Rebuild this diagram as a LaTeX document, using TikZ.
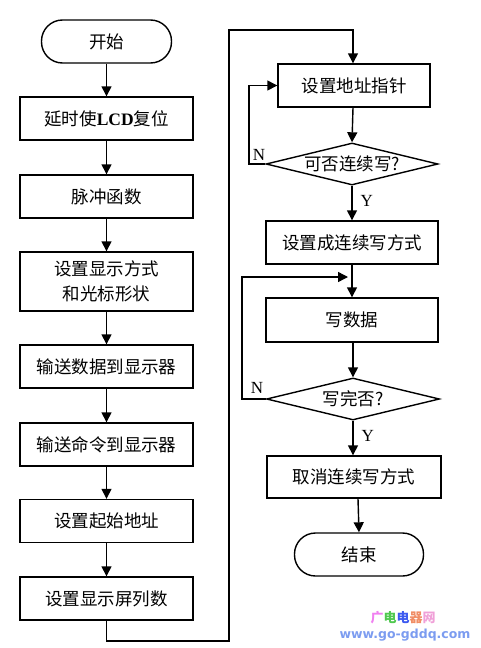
\documentclass[tikz,border=0pt]{standalone}
\usepackage{fontspec}
\setmainfont{Liberation Serif}
\newfontfamily\cjk{Noto Sans CJK SC}
\newfontfamily\wmfont{DejaVu Sans}
\usetikzlibrary{arrows.meta,shapes.geometric}
\definecolor{wmpink}{HTML}{F080F0}
\definecolor{wmgreen}{HTML}{50C850}
\definecolor{wmblue}{HTML}{3C5AF0}
\definecolor{wmorange}{HTML}{F08C64}
\definecolor{wmrose}{HTML}{F0A0D8}
\definecolor{wmsky}{HTML}{7C9CF0}
\tikzset{
  every node/.style={font=\cjk\fontsize{17.5}{25}\selectfont},
  procbox/.style={draw, line width=1.4pt, rectangle, minimum width=#1, minimum height=43pt, inner sep=0pt, align=center},
  procbox/.default=173pt,
  termbox/.style={draw, line width=1.4pt, rectangle, rounded corners=21pt, minimum width=130pt, minimum height=43pt, inner sep=0pt},
  decbox/.style={draw, line width=1.4pt, diamond, minimum width=172pt, minimum height=42pt, inner sep=0pt},
  flow/.style={line width=1.4pt, -{Triangle[length=10pt,width=10pt]}},
  plain/.style={line width=1.4pt},
  yn/.style={font=\fontsize{17}{18}\selectfont, inner sep=0pt}
}
\begin{document}
\begin{tikzpicture}[x=1pt,y=-1pt]
\useasboundingbox (0,0) rectangle (480,648);
% left column
\node[termbox] (start) at (106.5,41.5) {开始};
\node[procbox] (b1) at (106.5,118.5) {延时使{\rmfamily\bfseries LCD}复位};
\node[procbox] (b2) at (106.5,196.5) {脉冲函数};
\node[procbox, minimum height=59pt] (b3) at (106.5,281.5) {设置显示方式\\和光标形状};
\node[procbox] (b4) at (106.5,366.5) {输送数据到显示器};
\node[procbox] (b5) at (106.5,444.5) {输送命令到显示器};
\node[procbox] (b6) at (106.5,521) {设置起始地址};
\node[procbox] (b7) at (106.5,598.5) {设置显示屏列数};
% right column
\node[procbox=152pt] (r1) at (354,85.5) {设置地址指针};
\node[decbox] (d1) at (352,164) {};
\node at (d1.center) {可否连续写?};
\node[procbox=172pt] (r2) at (352,242.5) {设置成连续写方式};
\node[procbox=172pt, minimum height=44pt] (r3) at (352,320) {写数据};
\node[decbox, minimum width=173pt] (d2) at (353,399) {};
\node at (d2.center) {写完否?};
\node[procbox=174pt, minimum height=42pt] (r4) at (354,477) {取消连续写方式};
\node[termbox, minimum width=129pt] (stop) at (359,554.5) {结束};
% coordinates
\coordinate (c1) at (106.5,641);
\coordinate (c2) at (229,641);
\coordinate (c3) at (229,30);
\coordinate (n1) at (249,164);
\coordinate (n2) at (242,399);
\coordinate (j) at (352,277);
% connectors left
\draw[flow] (start) -- (b1);
\draw[flow] (b1) -- (b2);
\draw[flow] (b2) -- (b3);
\draw[flow] (b3) -- (b4);
\draw[flow] (b4) -- (b5);
\draw[flow] (b5) -- (b6);
\draw[flow] (b6) -- (b7);
\draw[flow] (b7.south) -- (c1) -- (c2) -- (c3) -| ([xshift=-1pt]r1.north);
% connectors right
\draw[flow] ([xshift=-1pt]r1.south) -- (d1.north);
\draw[flow] (d1.south) -- node[yn, right=8pt, pos=0.45] {Y} (r2.north);
\draw[flow] (d1.west) -- (n1) |- (r1.west);
\node[yn] at (259,155) {N};
\draw[flow] (r2.south) -- (r3.north);
\draw[flow] (d2.west) -- (n2) |- ([xshift=-4pt]j);
\draw[flow] ([xshift=1pt]r3.south) -- (d2.north);
\draw[flow] (d2.south) -- node[yn, right=8pt, pos=0.45] {Y} ([xshift=-1pt]r4.north);
\node[yn] at (257,388) {N};
\draw[flow] ([xshift=4pt]r4.south) -- (stop.north);
% watermark
\node[font=\cjk\bfseries\fontsize{13}{14}\selectfont, inner sep=0pt] (wm1) at (403,618) {\textcolor{wmpink}{广}\textcolor{wmgreen}{电}\textcolor{wmblue}{电}\textcolor{wmorange}{器}\textcolor{wmrose}{网}};
\node[font=\wmfont\bfseries\fontsize{12.5}{14}\selectfont, text=wmsky, inner sep=0pt] (wm2) at (405,635) {www.go-gddq.com};
\end{tikzpicture}
\end{document}
